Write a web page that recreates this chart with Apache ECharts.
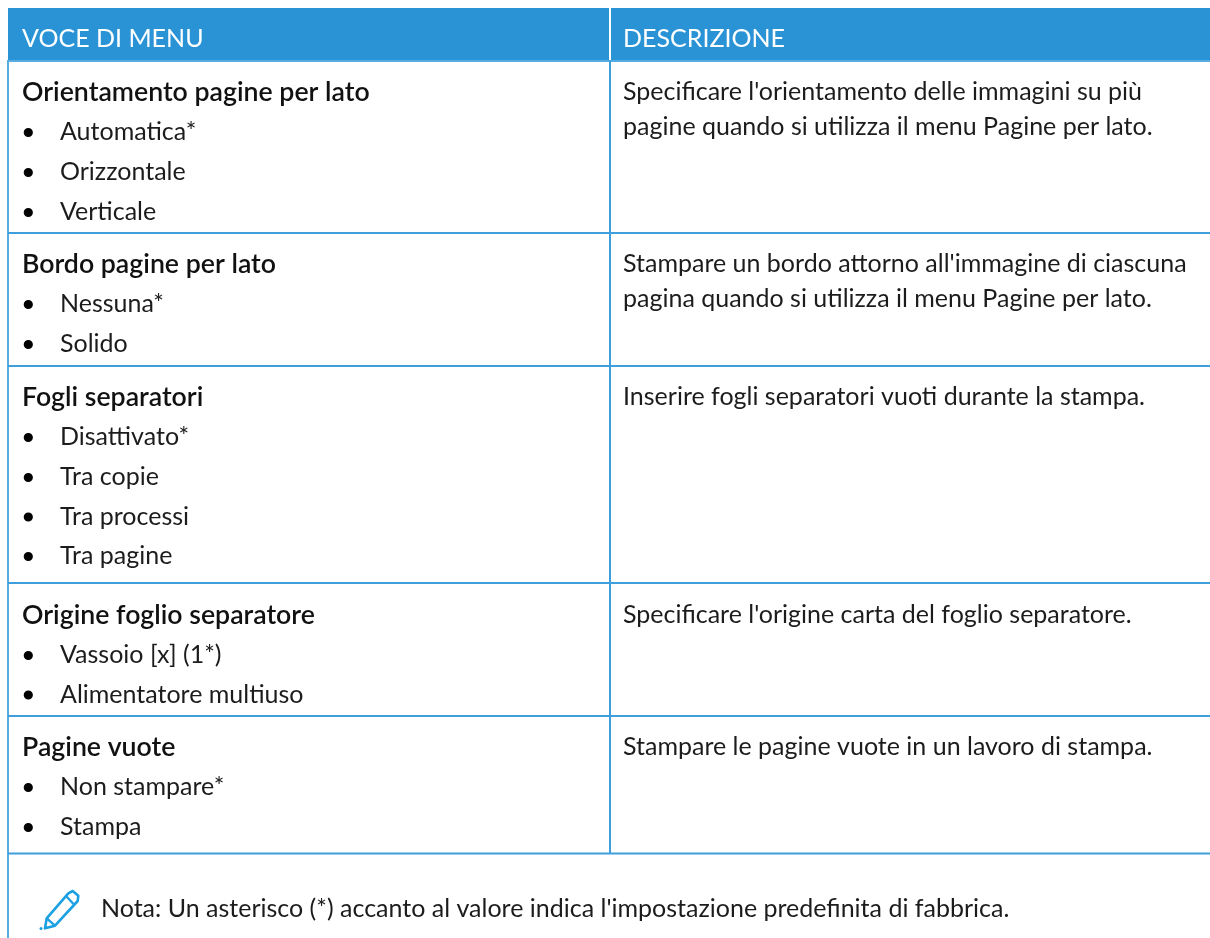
<!DOCTYPE html>
<html><head><meta charset="utf-8">
<style>html,body{margin:0;padding:0;background:#fff}#c{width:1210px;height:938px}</style>
<script src="https://cdn.jsdelivr.net/npm/echarts@6/dist/echarts.min.js"></script></head>
<body><div id="c"></div>
<script>
const headers = ["VOCE DI MENU", "DESCRIZIONE"];
const rowTitles = ["Orientamento pagine per lato", "Bordo pagine per lato", "Fogli separatori", "Origine foglio separatore", "Pagine vuote"];
const rowOptions = [
  ["Automatica*", "Orizzontale", "Verticale"],
  ["Nessuna*", "Solido"],
  ["Disattivato*", "Tra copie", "Tra processi", "Tra pagine"],
  ["Vassoio [x] (1*)", "Alimentatore multiuso"],
  ["Non stampare*", "Stampa"]
];
const rowDescriptions = [
  ["Specificare l'orientamento delle immagini su più", "pagine quando si utilizza il menu Pagine per lato."],
  ["Stampare un bordo attorno all'immagine di ciascuna", "pagina quando si utilizza il menu Pagine per lato."],
  ["Inserire fogli separatori vuoti durante la stampa."],
  ["Specificare l'origine carta del foglio separatore."],
  ["Stampare le pagine vuote in un lavoro di stampa."]
];
const noteText = "Nota: Un asterisco (*) accanto al valore indica l'impostazione predefinita di fabbrica.";

// layout (baselines, px)
const rowLines = [233, 366, 583, 716, 853.5];
const titleBase = [100, 272, 405, 623, 755];
const optionBase = [[140, 180, 220], [312, 352], [445, 485, 524.5, 564], [663, 702.5], [795, 835]];
const FONT = "Lato", SIZE = 25, MID = 8, INK = "#1c1c1c";
const BLUE = "#2a93d6", LINE = "#3f9fdc", EDGE = "#57ade2", PEN = "#1ba1e2";
const els = [];
const text = (x, base, t, o = {}) => els.push({type: "text", x, y: base - MID, style: Object.assign({
  text: t, fontFamily: FONT, fontSize: SIZE, fill: INK, textVerticalAlign: "middle", textAlign: "left"}, o)});
const box = (x, y, width, height, fill) => els.push({type: "rect", shape: {x, y, width, height}, style: {fill}});

box(8, 8, 1202, 52, BLUE);
box(609, 8, 2, 52, "#ffffff");
box(8, 60, 1202, 2, EDGE);
box(7, 60, 2, 878, EDGE);
box(609, 60, 2, 793.5, LINE);
rowLines.forEach(y => box(8, y - 1, 1202, 2, LINE));
text(22, 47, headers[0], {fill: "#fff"});
text(623, 47, headers[1], {fill: "#fff"});
rowTitles.forEach((t, i) => {
  text(22, titleBase[i], t, {fontWeight: 600, fontSize: 26.7, fill: "#111"});
  rowOptions[i].forEach((o, j) => {
    const b = optionBase[i][j];
    els.push({type: "circle", shape: {cx: 28.3, cy: b - 7.5, r: 4.6}, style: {fill: "#000"}});
    text(60, b, o);
  });
  rowDescriptions[i].forEach((d, j) => text(623, titleBase[i] + 35 * j, d));
});
text(101, 917, noteText);
els.push({type: "polygon", shape: {points: [[46.7, 918.3], [68.3, 893.3], [72.7, 891], [78.3, 895.7], [77.7, 901], [55, 925.7], [45, 928.3]]},
  style: {fill: "none", stroke: PEN, lineWidth: 2.6, lineJoin: "round"}});
els.push({type: "line", shape: {x1: 46.7, y1: 918.3, x2: 55, y2: 925.7}, style: {stroke: PEN, lineWidth: 2.4}});
els.push({type: "line", shape: {x1: 66, y1: 896, x2: 73.5, y2: 904}, style: {stroke: PEN, lineWidth: 2.4}});
els.push({type: "circle", shape: {cx: 41, cy: 928.5, r: 1.5}, style: {fill: PEN}});

const chart = echarts.init(document.getElementById("c"), null, {renderer: "canvas"});
chart.setOption({animation: false, backgroundColor: "#fff", graphic: {elements: els}});
</script></body></html>
